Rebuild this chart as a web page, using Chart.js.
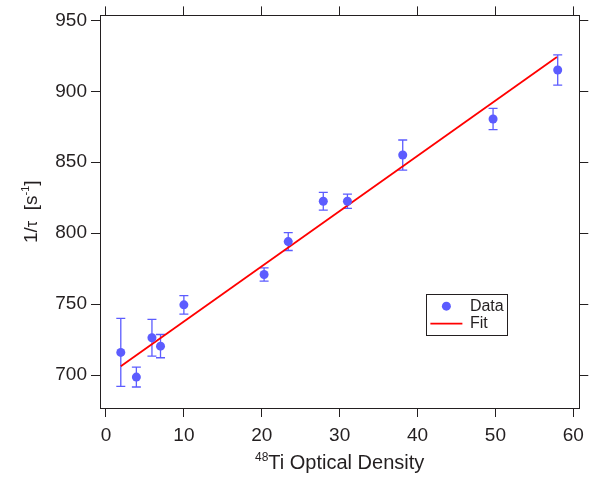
<!DOCTYPE html>
<html><head><meta charset="utf-8">
<script src="https://cdn.jsdelivr.net/npm/chart.js@4/dist/chart.umd.min.js"></script>
<style>html,body{margin:0;padding:0;background:#fff}canvas{display:block}</style>
</head><body>
<canvas id="c" width="591" height="479"></canvas>
<script>
// ---- data ----
const xTicks = [0, 10, 20, 30, 40, 50, 60];
const yTicks = [700, 750, 800, 850, 900, 950];
const odX    = [1.9, 3.9, 5.9, 7.0, 10.0, 20.3, 23.4, 27.9, 31.0, 38.1, 49.7, 58.0];
const rateY  = [716.0, 698.6, 726.3, 720.4, 749.5, 770.9, 794.1, 822.5, 822.5, 855.1, 880.5, 915.0];
const rateErr= [24, 7, 13, 8.2, 6.5, 4.7, 6.3, 6.3, 5, 10.6, 7.5, 10.7];
const fitX   = [1.9, 57.9];
const fitY   = [706.3, 924.2];
const seriesNames = ['Data', 'Fit'];

const FONT = '"Liberation Sans", Arial, Helvetica, sans-serif';
const INK = '#231f20';
const DOT = '#5c5cff';
const RED = '#ff0000';

const setTicks = vals => s => { s.ticks = vals.map(v => ({ value: v })); };

const errorBars = {
  id: 'errorBars',
  beforeDatasetsDraw(chart) {
    const { ctx, scales: { x, y } } = chart;
    ctx.save();
    ctx.strokeStyle = DOT;
    ctx.lineWidth = 1.3;
    for (let i = 0; i < odX.length; i++) {
      const px = x.getPixelForValue(odX[i]);
      const t = y.getPixelForValue(rateY[i] + rateErr[i]);
      const b = y.getPixelForValue(rateY[i] - rateErr[i]);
      ctx.beginPath();
      ctx.moveTo(px, t); ctx.lineTo(px, b);
      ctx.moveTo(px - 4.5, t); ctx.lineTo(px + 4.5, t);
      ctx.moveTo(px - 4.5, b); ctx.lineTo(px + 4.5, b);
      ctx.stroke();
    }
    ctx.restore();
  }
};

const titlesAndLegend = {
  id: 'titlesAndLegend',
  afterDraw(chart) {
    const { ctx, chartArea: a } = chart;
    ctx.save();
    ctx.fillStyle = INK;
    ctx.textBaseline = 'alphabetic';
    // x title
    const big = '20px ' + FONT, sup = '12px ' + FONT;
    ctx.font = sup; const w48 = ctx.measureText('48').width;
    ctx.font = big; const wMain = ctx.measureText('Ti Optical Density').width;
    let sx = (a.left + a.right) / 2 - (w48 + wMain) / 2;
    const by = 469;
    ctx.font = sup; ctx.fillText('48', sx, by - 8);
    ctx.font = big; ctx.fillText('Ti Optical Density', sx + w48, by);
    // y title (rotated)
    const ybig = '19px ' + FONT, ysup = '11px ' + FONT;
    const parts = [['1/', ybig, 0], ['\u03c4', '16px ' + FONT, 0], ['  [s', ybig, 0], ['-1', ysup, 8], [']', ybig, 0]];
    let total = 0;
    parts.forEach(p => { ctx.font = p[1]; p.push(ctx.measureText(p[0]).width); total += p[3]; });
    ctx.translate(37, (a.top + a.bottom) / 2);
    ctx.rotate(-Math.PI / 2);
    let cx = -total / 2;
    parts.forEach(p => { ctx.font = p[1]; ctx.fillText(p[0], cx, -p[2]); cx += p[3]; });
    ctx.setTransform(1, 0, 0, 1, 0, 0);
    // legend
    const lx = a.left + 0.681 * (a.right - a.left);
    const ly = a.top + 0.71 * (a.bottom - a.top);
    ctx.strokeStyle = INK; ctx.lineWidth = 1;
    ctx.strokeRect(Math.round(lx) + 0.5, Math.round(ly) + 0.5, 81, 41);
    ctx.fillStyle = DOT;
    ctx.beginPath(); ctx.arc(lx + 20, ly + 12, 4.5, 0, Math.PI * 2); ctx.fill();
    ctx.strokeStyle = RED; ctx.lineWidth = 1.8;
    ctx.beginPath(); ctx.moveTo(lx + 4, ly + 29.5); ctx.lineTo(lx + 36, ly + 29.5); ctx.stroke();
    ctx.fillStyle = INK; ctx.font = '16px ' + FONT; ctx.textBaseline = 'middle';
    ctx.fillText(seriesNames[0], lx + 43.5, ly + 12);
    ctx.fillText(seriesNames[1], lx + 43.5, ly + 29);
    ctx.restore();
  }
};

const gridOpts = { drawOnChartArea: false, drawTicks: true, tickLength: 9, color: INK, tickColor: INK, lineWidth: 1 };
const borderOpts = { display: true, color: INK, width: 1 };

new Chart(document.getElementById('c'), {
  type: 'scatter',
  data: {
    datasets: [
      { label: seriesNames[0], data: odX.map((v, i) => ({ x: v, y: rateY[i] })),
        pointRadius: 4.5, pointBackgroundColor: DOT, pointBorderWidth: 0, showLine: false, order: 1 },
      { label: seriesNames[1], data: fitX.map((v, i) => ({ x: v, y: fitY[i] })),
        showLine: true, borderColor: RED, borderWidth: 1.8, pointRadius: 0, order: 2 }
    ]
  },
  options: {
    responsive: false, animation: false, devicePixelRatio: 1,
    layout: { padding: 0 },
    plugins: { legend: { display: false }, tooltip: { enabled: false } },
    scales: {
      x: { type: 'linear', position: 'bottom', min: -0.77, max: 60.77,
           afterBuildTicks: setTicks(xTicks), afterFit: s => { s.height = 71; },
           grid: gridOpts, border: borderOpts,
           ticks: { color: INK, font: { family: FONT, size: 19 }, padding: 7, autoSkip: false, maxRotation: 0 } },
      x2: { type: 'linear', position: 'top', min: -0.77, max: 60.77,
           afterBuildTicks: setTicks(xTicks), afterFit: s => { s.height = 15; },
           grid: gridOpts, border: borderOpts, ticks: { display: false } },
      y: { type: 'linear', position: 'left', min: 676.8, max: 953.5,
           afterBuildTicks: setTicks(yTicks), afterFit: s => { s.width = 100; },
           grid: gridOpts, border: borderOpts,
           ticks: { color: INK, font: { family: FONT, size: 19 }, padding: 4 } },
      y2: { type: 'linear', position: 'right', min: 676.8, max: 953.5,
           afterBuildTicks: setTicks(yTicks), afterFit: s => { s.width = 11; },
           grid: gridOpts, border: borderOpts, ticks: { display: false } }
    }
  },
  plugins: [errorBars, titlesAndLegend]
});
</script>
</body></html>
